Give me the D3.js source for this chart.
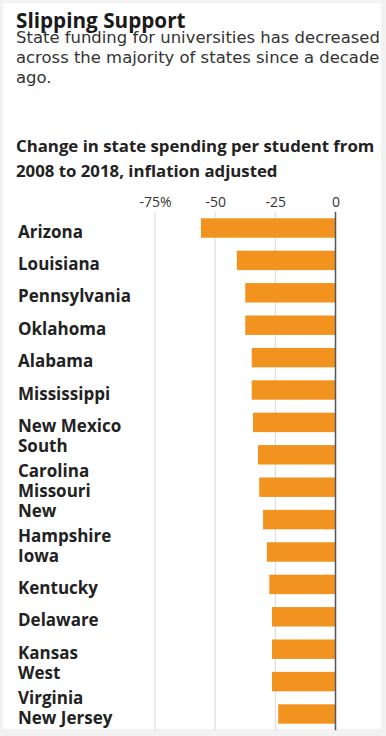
<!DOCTYPE html>
<html><head><meta charset="utf-8">
<script src="https://cdn.jsdelivr.net/npm/d3@7"></script>
<style>
html,body{margin:0;padding:0;background:#f2f2f2;}
svg{display:block;font-family:"Open Sans",sans-serif;}
</style></head>
<body><svg id="chart" width="386" height="736"></svg>
<script>
const states = ["Arizona","Louisiana","Pennsylvania","Oklahoma","Alabama","Mississippi","New Mexico","South Carolina","Missouri","New Hampshire","Iowa","Kentucky","Delaware","Kansas","West Virginia","New Jersey"];
const labelLines = [["Arizona"],["Louisiana"],["Pennsylvania"],["Oklahoma"],["Alabama"],["Mississippi"],["New Mexico"],["South","Carolina"],["Missouri"],["New","Hampshire"],["Iowa"],["Kentucky"],["Delaware"],["Kansas"],["West","Virginia"],["New Jersey"]];
const changes = [-55.9,-41,-37.5,-37.5,-34.8,-34.8,-34.3,-32.2,-31.7,-30.1,-28.5,-27.5,-26.4,-26.4,-26.4,-23.8];
const tickValues = [-75,-50,-25,0];
const tickLabels = ["-75%","-50","-25","0"];
const title = "Slipping Support";
const subtitleLines = ["State funding for universities has decreased","across the majority of states since a decade","ago."];
const chartTitleLines = ["Change in state spending per student from","2008 to 2018, inflation adjusted"];

const svg = d3.select("#chart");
svg.append("rect").attr("x",3).attr("y",3).attr("width",378).attr("height",726).attr("fill","#fff");

svg.append("text").attr("x",16).attr("y",27.5).attr("font-size",20.7).attr("font-weight",700).attr("fill","#1a1a1a").text(title);
const sub = svg.append("g").selectAll("text").data(subtitleLines).join("text")
  .attr("x",16).attr("y",(d,i)=>42.5+i*20.2).attr("font-size",15.5)
  .attr("font-family","'DejaVu Sans', sans-serif").attr("fill","#333").text(d=>d);
// fit first subtitle line to the reference width
const w0 = sub.node().getComputedTextLength();
sub.attr("font-size", 15.5*364/w0);

svg.append("g").selectAll("text").data(chartTitleLines).join("text")
  .attr("x",16).attr("y",(d,i)=>151.7+i*25).attr("font-size",16.8).attr("font-weight",700).attr("fill","#222").text(d=>d);

const x = d3.scaleLinear().domain([-75,0]).range([155,335.5]);
const y = d3.scaleBand().domain(states).range([211.8,730.2]).paddingInner(0.4).paddingOuter(0.2);

svg.append("g").selectAll("line").data(tickValues.slice(0,-1)).join("line")
  .attr("x1",d=>x(d)).attr("x2",d=>x(d)).attr("y1",211.8).attr("y2",730.2)
  .attr("stroke","#d9d9d9").attr("stroke-width",1);

const axis = d3.axisTop(x).tickValues(tickValues).tickFormat((d,i)=>tickLabels[i]).tickSize(0).tickPadding(0);
const ag = svg.append("g").attr("transform","translate(0,206.7)").call(axis);
ag.select(".domain").remove();
ag.selectAll("text").attr("font-size",14).attr("font-family","Open Sans, sans-serif").attr("fill","#333");

svg.append("g").selectAll("rect").data(states).join("rect")
  .attr("x",(d,i)=>x(changes[i])).attr("width",(d,i)=>x(0)-x(changes[i]))
  .attr("y",d=>y(d)).attr("height",y.bandwidth()).attr("fill","#f3931f");

svg.append("line").attr("x1",x(0)).attr("x2",x(0)).attr("y1",211.8).attr("y2",730.2)
  .attr("stroke","#555").attr("stroke-width",1.5);

const lg = svg.append("g");
states.forEach((s,i)=>{
  const c = y(s)+y.bandwidth()/2;
  const lines = labelLines[i];
  const t = lg.append("text").attr("font-size",17).attr("font-weight",700).attr("fill","#222");
  if(lines.length===1){
    t.append("tspan").attr("x",18).attr("y",c+9.5).text(lines[0]);
  } else {
    t.append("tspan").attr("x",18).attr("y",c-3).text(lines[0]);
    t.append("tspan").attr("x",18).attr("y",c+22.5).text(lines[1]);
  }
});
</script></body></html>
